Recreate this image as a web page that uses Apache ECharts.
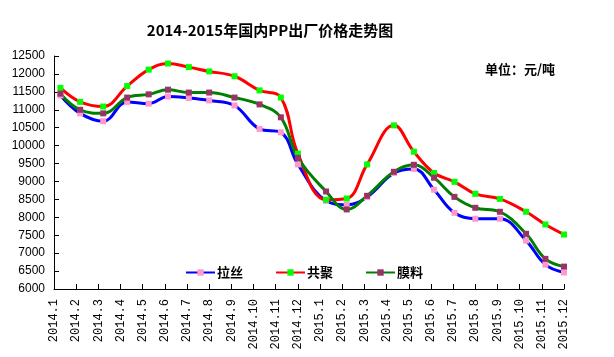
<!DOCTYPE html>
<html><head><meta charset="utf-8">
<script src="https://cdn.jsdelivr.net/npm/echarts@6/dist/echarts.min.js"></script>
<style>html,body{margin:0;padding:0;background:#fff}#c{width:614px;height:357px}</style>
</head><body><div id="c"></div>
<script>
const categories = ['2014.1','2014.2','2014.3','2014.4','2014.5','2014.6','2014.7','2014.8','2014.9','2014.10','2014.11','2014.12',
  '2015.1','2015.2','2015.3','2015.4','2015.5','2015.6','2015.7','2015.8','2015.9','2015.10','2015.11','2015.12'];
// sample positions in month units (0 = 2014.1 tick)
const xPos = [0.29,1.18,2.22,3.30,4.27,5.14,6.08,7.0,8.14,9.27,10.23,11.0,
  12.27,13.2,14.12,15.33,16.23,17.14,18.06,19.0,20.11,21.29,22.16,23.0];
const lasi = [11400,10900,10680,11220,11170,11370,11330,11260,11120,10465,10370,9475,
  8460,8350,8565,9235,9350,8770,8125,7960,7960,7350,6680,6460];
const gongju = [11610,11220,11090,11660,12120,12290,12190,12070,11935,11540,11340,9775,
  8490,8525,9475,10565,9830,9235,8990,8655,8515,8155,7800,7520];
const moliao = [11450,11000,10900,11340,11430,11560,11480,11480,11340,11150,10790,9660,
  8720,8220,8600,9270,9465,9105,8570,8265,8155,7540,6840,6625];
const seriesNames = ['拉丝','共聚','膜料'];

const pair = arr => arr.map((v,i)=>[xPos[i], v]);
const chart = echarts.init(document.getElementById('c'));
function mk(name, data, lineColor, markColor){
  return {name, type:'line', xAxisIndex:1, data:pair(data), smooth:0.4,
    symbol:'rect', symbolSize:6, showAllSymbol:true,
    lineStyle:{color:lineColor, width:3},
    itemStyle:{color:markColor, borderWidth:0},
    emphasis:{disabled:true}};
}
chart.setOption({
  animation:false,
  title:[{text:'2014-2015年国内PP出厂价格走势图', left:265, top:18, textAlign:'center',
    textStyle:{fontFamily:'Noto Sans CJK SC', fontSize:15, fontWeight:'bold', color:'#000'}},
    {text:'单位：元/吨', left:480, top:58,
    textStyle:{fontFamily:'Noto Sans CJK SC', fontSize:13, fontWeight:'bold', color:'#000'}}],
  legend:{left:180, top:261, itemWidth:29, itemHeight:8, itemGap:32,
    textStyle:{fontFamily:'Noto Sans CJK SC', fontSize:13, fontWeight:'bold', color:'#000', padding:[0,0,0,-3]},
    data:seriesNames},
  grid:{left:54, right:50, top:56, bottom:68, containLabel:false},
  xAxis:[{type:'category', data:categories, boundaryGap:false,
      axisLine:{lineStyle:{color:'#000', width:1}},
      axisTick:{inside:true, interval:0, length:5, lineStyle:{color:'#000'}},
      axisLabel:{interval:0, rotate:90, margin:10, color:'#000', fontFamily:'Liberation Mono', fontSize:12}},
    {type:'value', min:0, max:23, show:false}],
  yAxis:{type:'value', min:6000, max:12500, interval:500,
    axisLine:{show:true, lineStyle:{color:'#000', width:1}},
    axisTick:{show:true, inside:true, length:5, lineStyle:{color:'#000'}},
    splitLine:{show:false},
    axisLabel:{color:'#000', fontFamily:'Liberation Sans', fontSize:12, margin:9, formatter: v => String(v)}},
  series:[mk('拉丝', lasi, '#0000FF', '#FF99CC'),
          mk('共聚', gongju, '#FF0000', '#00FF00'),
          mk('膜料', moliao, '#008000', '#993366')]
});
</script></body></html>
